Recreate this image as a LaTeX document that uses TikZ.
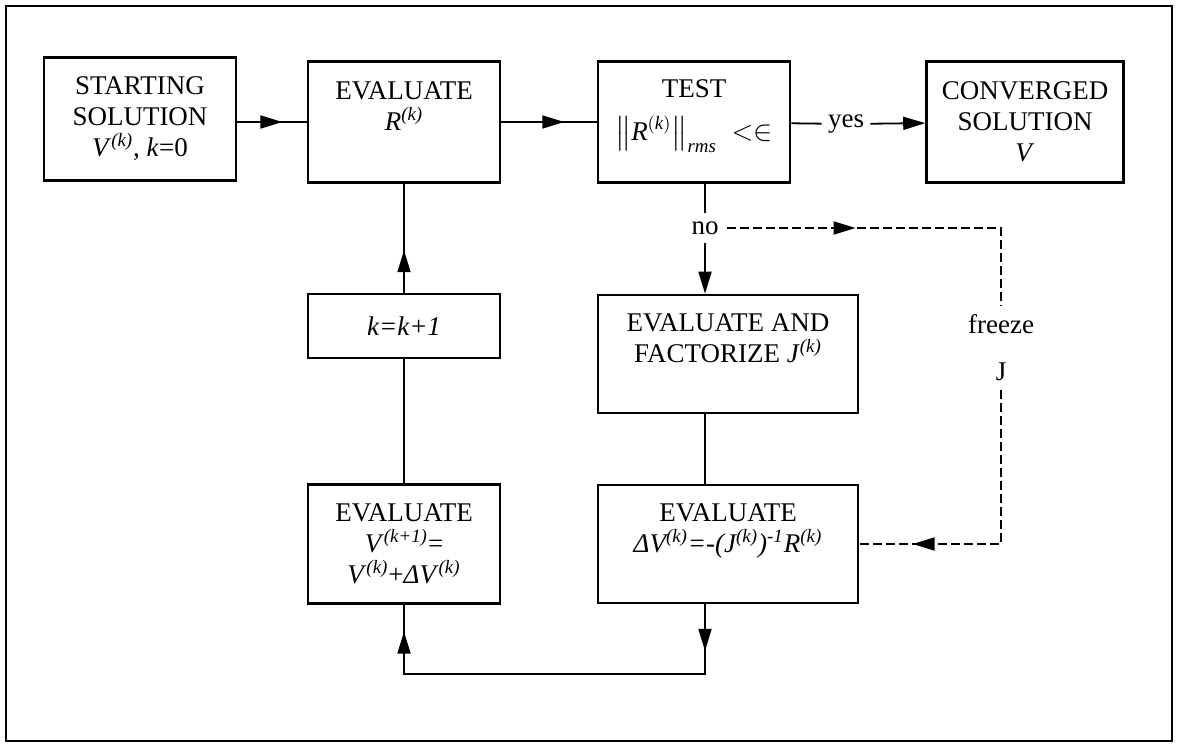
\documentclass[tikz,border=0pt]{standalone}
\usepackage{amsmath}
\usepackage{fontspec}
\setmainfont{Liberation Serif}
\usetikzlibrary{arrows.meta,decorations.markings}

\begin{document}
\begin{tikzpicture}[x=0.5pt, y=-0.5pt,
  tri/.tip={Triangle[length=11pt,width=6.5pt]},
  every node/.style={font=\fontsize{13.5}{15.5}\selectfont, align=center},
  box/.style={draw, line width=1.3pt, minimum width=96pt, minimum height=60.5pt, inner sep=2pt},
  wide/.style={box, minimum width=130pt, minimum height=59pt},
  link/.style={line width=0.9pt},
  frz/.style={link, dash pattern=on 4.5pt off 2pt},
  tipat/.style={postaction={decorate}, decoration={markings, mark=at position #1 with {\arrow{tri}}}}]
\useasboundingbox (0,0) rectangle (1177,744);
\draw[line width=1.2pt] (6,6) rectangle (1172,741);
\node[box, minimum height=61.5pt] (start) at (140,119) {STARTING\\SOLUTION\\\textit{V}\textsuperscript{\textit{(k)}}, \textit{k}=0};
\node[box] (evr) at (404,122) {EVALUATE\\\textit{R}\textsuperscript{\textit{(k)}}\\\mbox{}};
\node[box] (test) at (694,122) {TEST\\[6pt]$\big\|\textit{R}^{(\textit{k})}\big\|_{\textit{rms}}\ <\in$\\[-4pt]\mbox{}};
\node[box, minimum width=98.5pt] (conv) at (1025,122) {CONVERGED\\SOLUTION\\\textit{V}};
\node[inner sep=3pt] (yes) at (846,124) {yes};
\node[box, minimum height=32pt] (kinc) at (404,326) {\textit{k=k+1}};
\node[inner sep=4pt] (no) at (705,228) {no};
\node[wide] (evj) at (728,354) {EVALUATE AND\\FACTORIZE \textit{J}\textsuperscript{\textit{(k)}}\\\mbox{}};
\node[inner xsep=2pt, inner ysep=4pt] (frzJ) at (1001,348) {freeze\\[8pt]J};
\node[box, minimum height=59.5pt] (evv) at (404,544) {EVALUATE\\\textit{V}\textsuperscript{\textit{(k+1)}}=\\\textit{V}\textsuperscript{\textit{(k)}}+\textit{ΔV}\textsuperscript{\textit{(k)}}};
\node[wide] (evdv) at (728,544) {EVALUATE\\\textit{ΔV\textsuperscript{(k)}=-(J\textsuperscript{(k)})\textsuperscript{-1}R\textsuperscript{(k)}}\\\mbox{}};
\coordinate (loop) at (0,674);

\draw[link, tipat=0.65] (start.east |- evr) -- (evr.west);
\draw[link, tipat=0.66] (evr) -- (test);
\draw[link] (test) -- (yes);
\draw[link, -tri] (yes) -- (conv);
\draw[link] (test.south -| no) -- (no);
\draw[link, -tri] (no) -- (evj.north -| no);
\draw[frz, tipat=0.365] (no) -- (no -| frzJ) -- (frzJ);
\draw[frz, tipat=0.82] (frzJ) |- (evdv);
\draw[link] (evj.south -| no) -- (evdv.north -| no);
\draw[link, postaction={decorate}, decoration={markings, mark=at position 0.106 with {\arrow{tri}}, mark=at position 0.939 with {\arrow{tri}}}] (evdv.south -| no) -- (loop -| no) -- (loop -| evv) -- (evv.south);
\draw[link] (evv) -- (kinc);
\draw[link, tipat=0.39] (kinc) -- (evr);
\end{tikzpicture}
\end{document}
